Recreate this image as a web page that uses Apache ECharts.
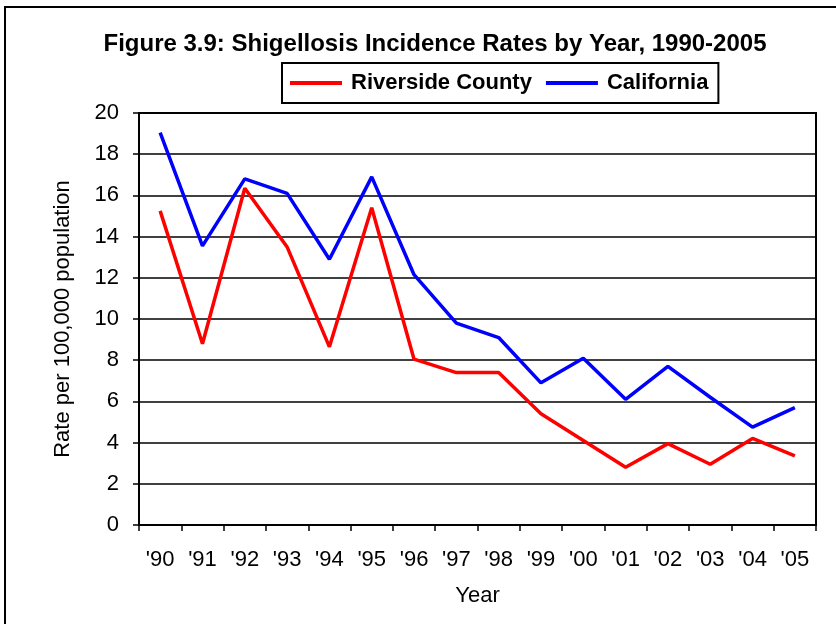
<!DOCTYPE html>
<html><head><meta charset="utf-8">
<script src="https://cdn.jsdelivr.net/npm/echarts@6/dist/echarts.min.js"></script>
<style>html,body{margin:0;padding:0;background:#fff}#c{width:836px;height:624px}</style>
</head><body><div id="c"></div>
<script>
const years = ["'90","'91","'92","'93","'94","'95","'96","'97","'98","'99","'00","'01","'02","'03","'04","'05"];
const riverside = [15.25, 8.8, 16.35, 13.5, 8.65, 15.4, 8.05, 7.4, 7.4, 5.4, 4.1, 2.8, 3.95, 2.95, 4.2, 3.35];
const california = [19.05, 13.55, 16.8, 16.1, 12.9, 16.9, 12.15, 9.8, 9.1, 6.9, 8.1, 6.1, 7.7, 6.2, 4.75, 5.7];
const yTicks = [0, 2, 4, 6, 8, 10, 12, 14, 16, 18, 20];

const FONT = '"Liberation Sans", Arial, sans-serif';
const chart = echarts.init(document.getElementById('c'), null, {renderer: 'canvas'});
chart.setOption({
  animation: false,
  backgroundColor: '#fff',
  graphic: [{
    type: 'rect', shape: {x: 5, y: 7, width: 900, height: 800},
    style: {fill: 'none', stroke: '#000', lineWidth: 2}, silent: true, z: -1
  }],
  title: {
    text: 'Figure 3.9: Shigellosis Incidence Rates by Year, 1990-2005',
    left: 435, textAlign: 'center', top: 32, padding: 0,
    textStyle: {fontFamily: FONT, fontSize: 24, fontWeight: 'bold', color: '#000'}
  },
  legend: {
    left: 282, top: 63,
    padding: [9, 10, 9, 8],
    itemGap: 14,
    itemWidth: 52, itemHeight: 4,
    borderColor: '#000', borderWidth: 2,
    textStyle: {fontFamily: FONT, fontSize: 22, fontWeight: 'bold', color: '#000', padding: [0, 0, 0, 4]},
    data: [{name: 'Riverside County', icon: 'rect'}, {name: 'California', icon: 'rect'}]
  },
  grid: {
    left: 139, right: 20, top: 113, bottom: 99,
    show: true, borderColor: '#000', borderWidth: 2, backgroundColor: '#fff'
  },
  xAxis: {
    type: 'category', data: years, boundaryGap: true,
    name: 'Year', nameLocation: 'middle', nameGap: 60,
    nameTextStyle: {fontFamily: FONT, fontSize: 22, color: '#000'},
    axisLine: {lineStyle: {color: '#000', width: 2}},
    axisTick: {show: true, length: 6, interval: 0, lineStyle: {color: '#000', width: 1.5}},
    axisLabel: {interval: 0, margin: 24, fontFamily: FONT, fontSize: 22, color: '#000'},
    splitLine: {show: false}
  },
  yAxis: {
    type: 'value', min: 0, max: 20, interval: 2,
    name: 'Rate per 100,000 population', nameLocation: 'middle', nameGap: 65,
    nameTextStyle: {fontFamily: FONT, fontSize: 22, color: '#000'},
    axisLine: {show: true, lineStyle: {color: '#000', width: 2}},
    axisTick: {show: true, length: 6, lineStyle: {color: '#000', width: 1.5}},
    axisLabel: {margin: 20, fontFamily: FONT, fontSize: 22, color: '#000',
      formatter: v => yTicks.includes(v) ? String(v) : ''},
    splitLine: {show: true, lineStyle: {color: '#000', width: 1.5}}
  },
  series: [
    {name: 'Riverside County', type: 'line', data: riverside, symbol: 'none',
     lineStyle: {color: '#ff0000', width: 3.5}, itemStyle: {color: '#ff0000'}, z: 3},
    {name: 'California', type: 'line', data: california, symbol: 'none',
     lineStyle: {color: '#0000ff', width: 3.5}, itemStyle: {color: '#0000ff'}, z: 2}
  ]
});
</script></body></html>
